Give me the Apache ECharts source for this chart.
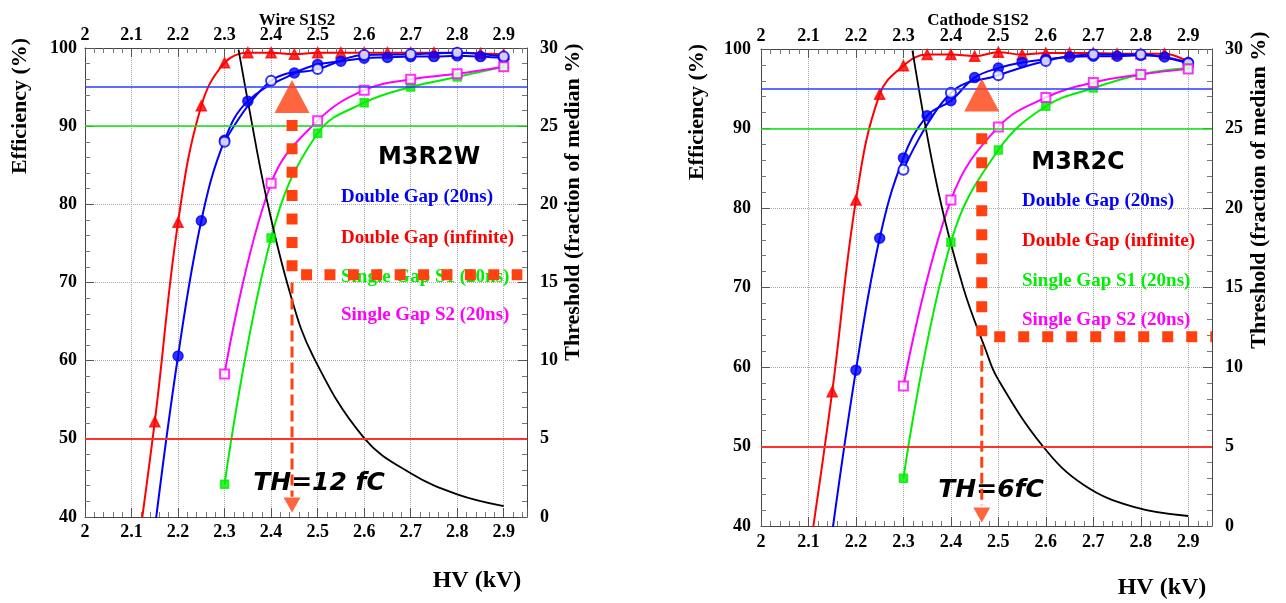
<!DOCTYPE html>
<html>
<head>
<meta charset="utf-8">
<script src="https://cdn.jsdelivr.net/npm/echarts@6/dist/echarts.min.js"></script>
<style>
html,body{margin:0;padding:0;background:#fff;}
#chart{width:1286px;height:603px;}
</style>
</head>
<body>
<div id="chart"></div>
<script>
// ---------------- DATA (HV in kV, efficiency in %, threshold in % of median) ----------------
const panelTitles = ['Wire S1S2', 'Cathode S1S2'];
const chamberNames = ['M3R2W', 'M3R2C'];
const thLabels = ['TH=12 fC', 'TH=6fC'];
const legendNames = ['Double Gap (20ns)', 'Double Gap (infinite)', 'Single Gap S1 (20ns)', 'Single Gap S2 (20ns)'];
const refLevels = [95, 90, 50];

// Wire panel
const wireDGInf = [[2.15,52.2],[2.2,77.7],[2.25,92.6],[2.3,98.1],[2.35,99.4],[2.4,99.4],[2.45,99.2],[2.5,99.4],[2.55,99.4],[2.6,99.4],[2.65,99.4],[2.7,99.4],[2.75,99.4],[2.8,99.4],[2.85,99.3],[2.9,99.2]];
const wireDGInfTail = [[2.1,30]];
const wireDG20 = [[2.2,60.6],[2.25,77.9],[2.3,88.2],[2.35,93.2],[2.45,96.8],[2.5,97.9],[2.55,98.3],[2.6,98.7],[2.65,98.8],[2.7,98.9],[2.75,98.9],[2.8,99.0],[2.85,98.9],[2.9,98.7]];
const wireDG20Tail = [[2.15,38.5]];
const wireDG20Open = [[2.3,88.0],[2.4,95.8],[2.5,97.3],[2.6,99.1],[2.7,99.2],[2.8,99.4],[2.9,98.9]];
const wireSG1 = [[2.3,44.2],[2.4,75.7],[2.5,89.1],[2.6,93.0],[2.7,95.0],[2.8,96.3],[2.9,97.6]];
const wireSG2 = [[2.3,58.3],[2.4,82.7],[2.5,90.7],[2.6,94.6],[2.7,96.0],[2.8,96.7],[2.9,97.6]];
const wireThreshold = [[2.33,29.9],[2.35,26.6],[2.39,20.4],[2.44,14.4],[2.49,10.3],[2.6,5.05],[2.7,2.8],[2.8,1.45],[2.9,0.7]];
const wireDots = [[2.445,25.4],[2.445,15.5],[2.94,15.5]];
const wireDash = [[2.445,15.0],[2.445,1.3]];
const wireUp = [[2.445,26.9]];
const wireDown = [[2.445,0.76]];

// Cathode panel
const cathDGInf = [[2.15,56.9],[2.2,81.0],[2.25,94.3],[2.3,97.9],[2.35,99.3],[2.4,99.3],[2.45,99.1],[2.5,99.6],[2.55,99.3],[2.6,99.5],[2.65,99.5],[2.7,99.5],[2.75,99.4],[2.8,99.4],[2.85,99.4],[2.9,98.4]];
const cathDGInfTail = [[2.1,35.8]];
const cathDG20 = [[2.2,59.6],[2.25,76.2],[2.3,86.3],[2.35,91.6],[2.4,93.5],[2.45,96.4],[2.5,97.6],[2.55,98.3],[2.6,98.7],[2.65,99.0],[2.7,99.1],[2.75,99.1],[2.8,99.2],[2.85,99.0],[2.9,98.3]];
const cathDG20Tail = [[2.15,39.2]];
const cathDG20Open = [[2.3,84.8],[2.4,94.5],[2.5,96.7],[2.6,98.5],[2.7,99.3],[2.8,99.3],[2.9,98.2]];
const cathSG1 = [[2.3,46.0],[2.4,75.7],[2.5,87.3],[2.6,92.8],[2.7,95.1],[2.8,96.8],[2.9,97.6]];
const cathSG2 = [[2.3,57.6],[2.4,81.0],[2.5,90.2],[2.6,93.9],[2.7,95.8],[2.8,96.8],[2.9,97.5]];
const cathThreshold = [[2.319,29.9],[2.373,21.1],[2.426,15.0],[2.473,11.1],[2.498,9.3],[2.595,4.97],[2.68,2.58],[2.785,1.2],[2.9,0.63]];
const cathDots = [[2.465,24.7],[2.465,11.9],[2.95,11.9]];
const cathDash = [[2.465,11.4],[2.465,1.3]];
const cathUp = [[2.465,27.1]];
const cathDown = [[2.465,0.69]];

// axis ranges
const hvRange = [2, 2.95, 0.1];
const effRange = [40, 100, 10];
const thrRange = [0, 30, 5];

// ---------------- CHART ----------------
const BLUE = '#0000ff', RED = '#ff0000', GREEN = '#00ee00', MAG = '#ff00ff', ORANGE = '#ff4010';
const SERIF = '"Liberation Serif","Times New Roman",serif';
const SANS = '"DejaVu Sans",sans-serif';
const chart = echarts.init(document.getElementById('chart'), null, {renderer: 'canvas'});

const grids = [
  {left: 85, top: 48, width: 442, height: 469},
  {left: 761, top: 49, width: 451, height: 477}
];
const labelFont = {fontFamily: SERIF, fontWeight: 'bold', fontSize: 18, color: '#000'};
const frameLine = {show: true, lineStyle: {color: '#444', width: 1}};
const tick = {show: true, inside: true, length: 9, lineStyle: {color: '#555'}};
const minor = {show: true, splitNumber: 5, length: 5, lineStyle: {color: '#777'}};
const fmtX = v => String(Math.round(v * 10) / 10);

const xAxes = [], yAxes = [];
[0, 1].forEach(g => {
  const m = g === 0 ? [6, 4] : [7, 4];
  xAxes.push({type: 'value', gridIndex: g, position: 'bottom', min: hvRange[0], max: hvRange[1], interval: hvRange[2],
    axisLine: frameLine, axisTick: tick, minorTick: minor,
    axisLabel: Object.assign({margin: m[0], formatter: fmtX, showMaxLabel: false}, labelFont),
    splitLine: {show: true, lineStyle: {color: '#aaa', type: 'dotted', width: 1}}});
  xAxes.push({type: 'value', gridIndex: g, position: 'top', min: hvRange[0], max: hvRange[1], interval: hvRange[2],
    axisLine: frameLine, axisTick: tick, minorTick: minor,
    axisLabel: Object.assign({margin: m[1], formatter: fmtX, showMaxLabel: false}, labelFont),
    splitLine: {show: false}});
  yAxes.push({type: 'value', gridIndex: g, position: 'left', min: effRange[0], max: effRange[1], interval: effRange[2],
    axisLine: frameLine, axisTick: tick, minorTick: minor,
    axisLabel: Object.assign({margin: g === 0 ? 8 : 10}, labelFont),
    splitLine: {show: true, lineStyle: {color: '#aaa', type: 'dotted', width: 1}}});
  yAxes.push({type: 'value', gridIndex: g, position: 'right', min: thrRange[0], max: thrRange[1], interval: thrRange[2],
    axisLine: frameLine, axisTick: tick, minorTick: minor,
    axisLabel: Object.assign({margin: 13}, labelFont),
    splitLine: {show: false}});
});

function panelSeries(g, d) {
  const xi = 2 * g, yl = 2 * g, yr = 2 * g + 1;
  const curve = (data, color, yi, w) => ({type: 'line', xAxisIndex: xi, yAxisIndex: yi === undefined ? yl : yi, data, smooth: 0.4,
    showSymbol: false, symbol: 'none', silent: true, z: 2,
    lineStyle: {color, width: w || 2}});
  const marks = (name, data, symbol, size, color, extra) => Object.assign({type: 'scatter', name,
    xAxisIndex: xi, yAxisIndex: yl, data, symbol, symbolSize: size, z: 3,
    itemStyle: {color, borderColor: color, borderWidth: 1.5}}, extra || {});
  return [
    curve(d.inftail.concat(d.inf), RED),
    curve(d.dgtail.concat(d.dg), BLUE),
    curve(d.dgOpen, BLUE),
    curve(d.sg1, GREEN),
    curve(d.sg2, MAG),
    curve(d.thr, '#000', yr, 1.8),
    marks(legendNames[1], d.inf, 'triangle', 10, RED),
    marks(legendNames[0], d.dg, 'circle', 10, BLUE, {
      markLine: {silent: true, symbol: 'none', label: {show: false}, animation: false,
        data: [
          {yAxis: refLevels[0], lineStyle: {color: '#2a3cff', width: 1.6, type: 'solid'}},
          {yAxis: refLevels[1], lineStyle: {color: '#10e010', width: 1.6, type: 'solid'}},
          {yAxis: refLevels[2], lineStyle: {color: '#ff3030', width: 1.8, type: 'solid'}}
        ]}}),
    marks(legendNames[0] + ' ', d.dgOpen, 'emptyCircle', 10, BLUE),
    marks(legendNames[2], d.sg1, 'rect', 8, GREEN),
    marks(legendNames[3], d.sg2, 'emptyRect', 9, MAG),
    // threshold annotation
    {type: 'line', xAxisIndex: xi, yAxisIndex: yr, data: d.dots, showSymbol: false, symbol: 'none', silent: true, z: 5,
      lineStyle: {color: ORANGE, width: 11, type: [11, d.gap], cap: 'butt', join: 'miter'}},
    {type: 'line', xAxisIndex: xi, yAxisIndex: yr, data: d.dash, showSymbol: false, symbol: 'none', silent: true, z: 5,
      lineStyle: {color: ORANGE, width: 3, type: [11, 5], cap: 'butt'}},
    {type: 'scatter', xAxisIndex: xi, yAxisIndex: yr, data: d.up, symbol: 'triangle', symbolSize: [35, 33], z: 6, silent: true,
      itemStyle: {color: ORANGE}},
    {type: 'scatter', xAxisIndex: xi, yAxisIndex: yr, data: d.down, symbol: 'triangle', symbolRotate: 180, symbolSize: [17, 15], z: 6, silent: true,
      itemStyle: {color: ORANGE}}
  ];
}

const series = panelSeries(0, {inf: wireDGInf, inftail: wireDGInfTail, dg: wireDG20, dgtail: wireDG20Tail, dgOpen: wireDG20Open,
    sg1: wireSG1, sg2: wireSG2, thr: wireThreshold, dots: wireDots, dash: wireDash, up: wireUp, down: wireDown, gap: 12.4})
  .concat(panelSeries(1, {inf: cathDGInf, inftail: cathDGInfTail, dg: cathDG20, dgtail: cathDG20Tail, dgOpen: cathDG20Open,
    sg1: cathSG1, sg2: cathSG2, thr: cathThreshold, dots: cathDots, dash: cathDash, up: cathUp, down: cathDown, gap: 13}));

function txt(x, y, text, font, fill, align, rot) {
  return {type: 'text', x, y, rotation: rot || 0, z: 1, silent: true,
    style: {text, font, fill: fill || '#000', align: align || 'center', verticalAlign: 'middle'}};
}
const titleFont = 'bold 22px ' + SERIF;
const legFont = 'bold 19px ' + SERIF;
const legColors = [BLUE, RED, '#00ee00', MAG];
const graphics = [
  txt(297, 21, panelTitles[0], 'bold 17px ' + SERIF),
  txt(978, 21, panelTitles[1], 'bold 17px ' + SERIF),
  txt(20, 106, 'Efficiency (%)', titleFont, '#000', 'center', Math.PI / 2),
  txt(697, 112, 'Efficiency (%)', titleFont, '#000', 'center', Math.PI / 2),
  txt(573, 202, 'Threshold (fraction of median %)', titleFont, '#000', 'center', Math.PI / 2),
  txt(1259, 190, 'Threshold (fraction of median %)', titleFont, '#000', 'center', Math.PI / 2),
  txt(477, 581, 'HV (kV)', 'bold 24px ' + SERIF),
  txt(1162, 588, 'HV (kV)', 'bold 24px ' + SERIF),
  txt(429, 158, chamberNames[0], 'bold 24px ' + SANS),
  txt(1078, 163, chamberNames[1], 'bold 24px ' + SANS),
  txt(319, 483, thLabels[0], 'italic bold 25px ' + SANS),
  txt(991, 490, thLabels[1], 'italic bold 25px ' + SANS)
];
[197, 238, 277, 315].forEach((y, i) => graphics.push(txt(341, y, legendNames[i], legFont, legColors[i], 'left')));
[201, 241, 281, 320].forEach((y, i) => graphics.push(txt(1022, y, legendNames[i], legFont, legColors[i], 'left')));

chart.setOption({
  animation: false,
  backgroundColor: '#fff',
  grid: grids,
  xAxis: xAxes,
  yAxis: yAxes,
  series,
  graphic: graphics
});
</script>
</body>
</html>
